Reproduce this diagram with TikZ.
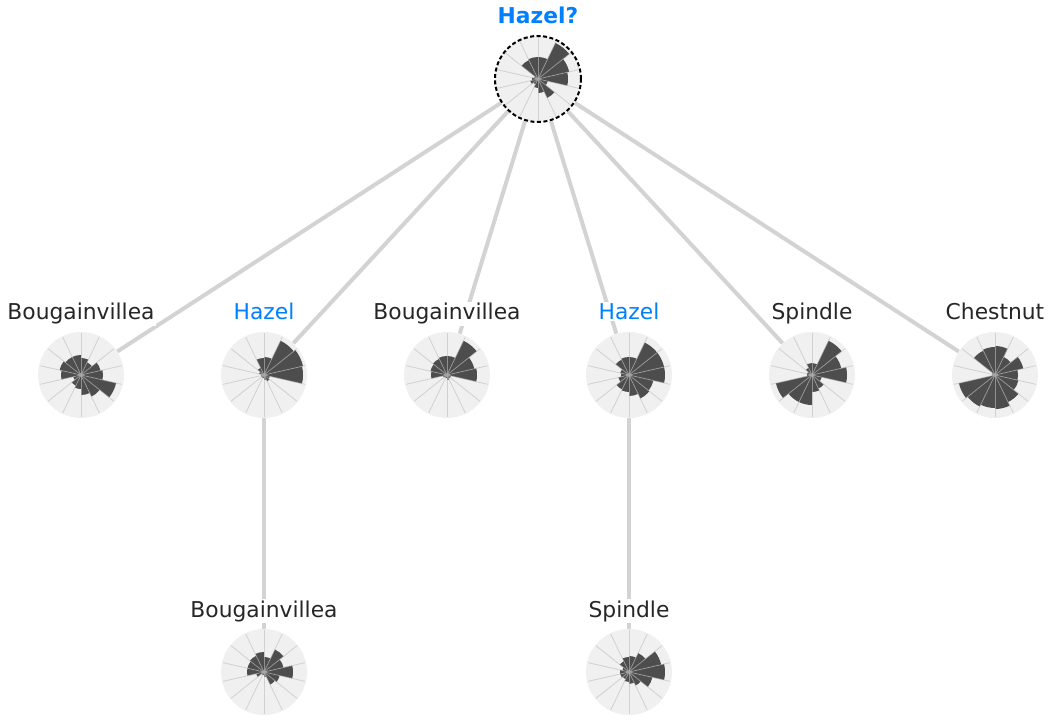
\documentclass[tikz,border=0pt]{standalone}
\usepackage{fontspec}
\setmainfont{DejaVu Sans}
\usepackage{tikz}
\usetikzlibrary{backgrounds}
\definecolor{textgrey}{HTML}{262626}
\definecolor{hazelblue}{RGB}{0,127,255}
\definecolor{dialbg}{HTML}{F0F0F0}
\definecolor{petalgrey}{HTML}{4D4D4D}
\definecolor{spokegrey}{RGB}{187,187,187}
\definecolor{linkgrey}{HTML}{D3D3D3}
\tikzstyle{dial}=[circle,fill=dialbg,minimum size=86,inner sep=0]
\tikzstyle{query}=[dial,draw=black,line width=2,dash pattern=on 4 off 2.5]
\tikzstyle{species}=[font=\fontsize{21.8}{26}\selectfont,text=textgrey,fill=white,inner sep=1,anchor=base]
\tikzstyle{guess}=[species,text=hazelblue,font=\fontsize{21.8}{26}\selectfont\bfseries]
\tikzstyle{link}=[draw=linkgrey,line width=4]
\tikzstyle{petal}=[fill=petalgrey]
\tikzstyle{spoke}=[draw=spokegrey,draw opacity=0.6,line width=0.8]

% rose of 14 petals, clockwise from the top
\newcommand{\petals}[2]{%
  \foreach \r [count=\k from 0] in {#2} {
    \fill[petal] (#1.center) -- ++({90-\k*360/14}:\r)
      arc[start angle={90-\k*360/14}, end angle={90-(\k+1)*360/14}, radius=\r] -- cycle;
  }
  \foreach \k in {0,...,13}
    \draw[spoke] (#1.center) -- ++({90-\k*360/14}:42);
  \fill[gray!70] (#1.center) circle (1.8);
}

\begin{document}
\begin{tikzpicture}[x=1pt,y=1pt]
\useasboundingbox (0,0) rectangle (1051,726);

	\node[query] (q) at (538,647) {};
	\node[dial] (b1) at (81,351) {};
	\node[dial] (h1) at (264,351) {};
	\node[dial] (b2) at (447,351) {};
	\node[dial] (h2) at (629,351) {};
	\node[dial] (s1) at (812,351) {};
	\node[dial] (c1) at (995,351) {};
	\node[dial] (b3) at (264,54) {};
	\node[dial] (s2) at (629,54) {};

	\petals{q}{22,40,32,30,10,21,14,9,6,8,6,4,21,22}
	\petals{b1}{17,14,20,22,36,24,20,14,12,8,20,22,20,20}
	\petals{h1}{18,38,40,39,6,7,5,3,3,3,3,5,8,17}
	\petals{b2}{19,38,28,30,4,4,5,3,3,4,16,17,18,19}
	\petals{h2}{18,36,36,36,25,26,21,17,16,11,8,9,17,18}
	\petals{s1}{12,38,30,35,10,15,17,30,30,37,5,5,8,12}
	\petals{c1}{29,20,29,23,24,30,34,33,35,37,3,3,27,28}
	\petals{b3}{15,25,20,29,16,14,5,3,3,8,17,17,18,20}
	\petals{s2}{16,21,33,36,24,15,12,10,8,9,9,7,12,15}

	\node[guess] (ql) at (538,702) {Hazel?};
	\node[species] (b1l) at (81,406) {Bougainvillea};
	\node[species,text=hazelblue] (h1l) at (264,406) {Hazel};
	\node[species] (b2l) at (447,406) {Bougainvillea};
	\node[species,text=hazelblue] (h2l) at (629,406) {Hazel};
	\node[species] (s1l) at (812,406) {Spindle};
	\node[species] (c1l) at (995,406) {Chestnut};
	\node[species] (b3l) at (264,109) {Bougainvillea};
	\node[species] (s2l) at (629,109) {Spindle};

	\begin{scope}[on background layer]
	\foreach \t in {b1,h1,b2,h2,s1,c1}
		\path[link] (q) -- (\t);
	\path[link] (h1) -- (b3);
	\path[link] (h2) -- (s2);
	\end{scope}
\end{tikzpicture}
\end{document}
